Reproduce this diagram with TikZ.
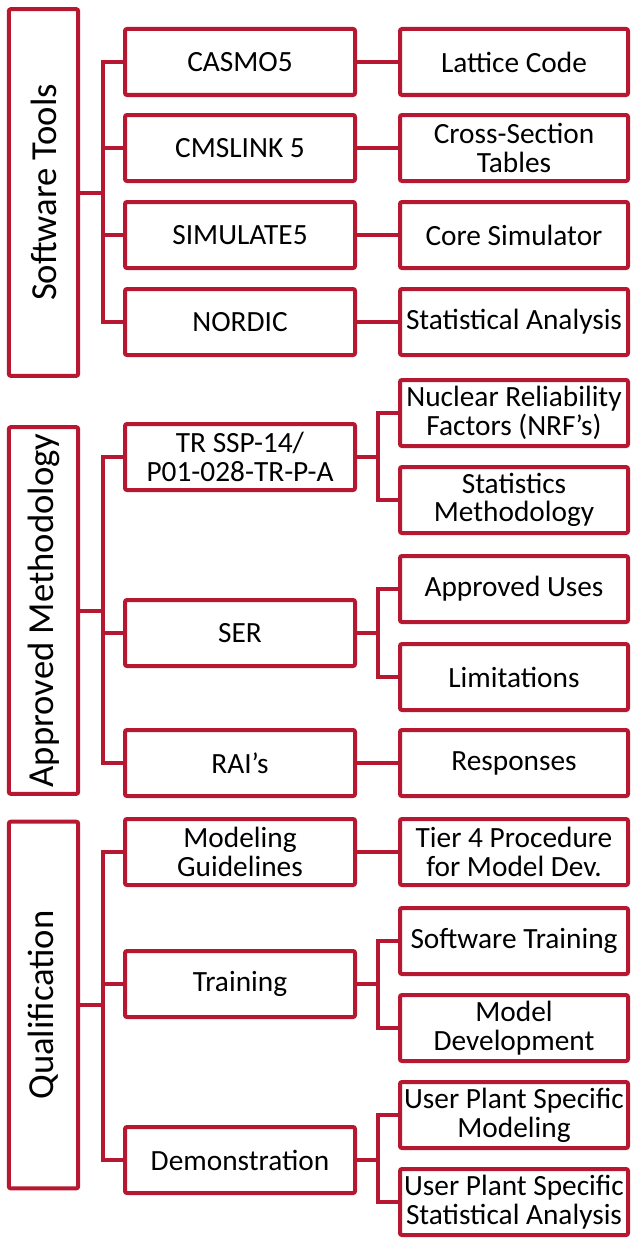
\documentclass[tikz,border=0pt]{standalone}
\usepackage{fontspec}
\setmainfont{Carlito}
\usepackage{xcolor}
\usepackage{tikz}
\usetikzlibrary{positioning,calc}
\definecolor{crimson}{RGB}{181,24,48}
\tikzset{
  box/.style={draw=crimson, line width=3pt, rounded corners=1.5pt, fill=white, align=center, inner sep=0pt, text=black, font=\fontsize{22}{21.5}\selectfont},
  midbox/.style={box, minimum width=172.5pt, minimum height=49.5pt},
  leafbox/.style={box, minimum width=171pt, minimum height=49.5pt},
  catbox/.style={box, rotate=90, minimum width=275pt, minimum height=52pt, font=\fontsize{27.5}{30}\selectfont},
  link/.style={draw=crimson, line width=3pt}
}
\begin{document}
\begin{tikzpicture}[x=0.75pt, y=-0.75pt]
  \useasboundingbox (0,0) rectangle (632,1238);

  % categories
  \node[catbox] (tools) at (43.5,192.5) {Software Tools};
  \node[catbox] (method) at (43.5,610.5) {Approved Methodology};
  \node[catbox] (qual) at (43.5,1005) {Qualification};

  % software tools
  \node[midbox] (casmo) at (240,62) {CASMO5};
  \node[midbox] (cmslink) at (240,148) {CMSLINK 5};
  \node[midbox] (simulate) at (240,235) {SIMULATE5};
  \node[midbox] (nordic) at (240,322) {NORDIC};
  \node[leafbox] (lattice) at (514,62) {Lattice Code};
  \node[leafbox] (xsec) at (514,148) {Cross-Section\\Tables};
  \node[leafbox] (coresim) at (514,235) {Core Simulator};
  \node[leafbox] (stats) at (514,322) {Statistical Analysis};

  % approved methodology
  \node[midbox] (tr) at (240,457) {TR SSP-14/\\P01-028-TR-P-A};
  \node[midbox] (ser) at (240,633) {SER};
  \node[midbox] (rai) at (240,763) {RAI’s};
  \node[leafbox] (nrf) at (514,413) {Nuclear Reliability\\Factors (NRF’s)};
  \node[leafbox] (statmeth) at (514,500) {Statistics\\Methodology};
  \node[leafbox] (uses) at (514,589) {Approved Uses};
  \node[leafbox] (limits) at (514,677) {Limitations};
  \node[leafbox] (resp) at (514,763) {Responses};

  % qualification
  \node[midbox] (guide) at (240,852) {Modeling\\Guidelines};
  \node[midbox] (train) at (240,984) {Training};
  \node[midbox] (demo) at (240,1160) {Demonstration};
  \node[leafbox] (tier) at (514,852) {Tier 4 Procedure\\for Model Dev.};
  \node[leafbox] (swtrain) at (514,941) {Software Training};
  \node[leafbox] (moddev) at (514,1028) {Model\\Development};
  \node[leafbox] (upsm) at (514,1115) {User Plant Specific\\Modeling};
  \node[leafbox] (upssa) at (514,1202) {User Plant Specific\\Statistical Analysis};

  % junctions
  \coordinate (toolsj) at (103,192.5);
  \coordinate (methodj) at (103,610.5);
  \coordinate (qualj) at (103,1005);
  \coordinate (trj) at (378,457);
  \coordinate (serj) at (378,633);
  \coordinate (trainj) at (378,984);
  \coordinate (demoj) at (378,1160);

  % branches
  \draw[link] (tools) -- (toolsj);
  \foreach \n in {casmo,cmslink,simulate,nordic}
    \draw[link] (toolsj) |- (\n.west);
  \draw[link] (method) -- (methodj);
  \foreach \n in {tr,ser,rai}
    \draw[link] (methodj) |- (\n.west);
  \draw[link] (qual) -- (qualj);
  \foreach \n in {guide,train,demo}
    \draw[link] (qualj) |- (\n.west);

  \draw[link] (casmo) -- (lattice);
  \draw[link] (cmslink) -- (xsec);
  \draw[link] (simulate) -- (coresim);
  \draw[link] (nordic) -- (stats);
  \draw[link] (rai) -- (resp);
  \draw[link] (guide) -- (tier);

  \draw[link] (tr) -- (trj);
  \foreach \n in {nrf,statmeth}
    \draw[link] (trj) |- (\n.west);
  \draw[link] (ser) -- (serj);
  \foreach \n in {uses,limits}
    \draw[link] (serj) |- (\n.west);
  \draw[link] (train) -- (trainj);
  \foreach \n in {swtrain,moddev}
    \draw[link] (trainj) |- (\n.west);
  \draw[link] (demo) -- (demoj);
  \foreach \n in {upsm,upssa}
    \draw[link] (demoj) |- (\n.west);
\end{tikzpicture}
\end{document}
